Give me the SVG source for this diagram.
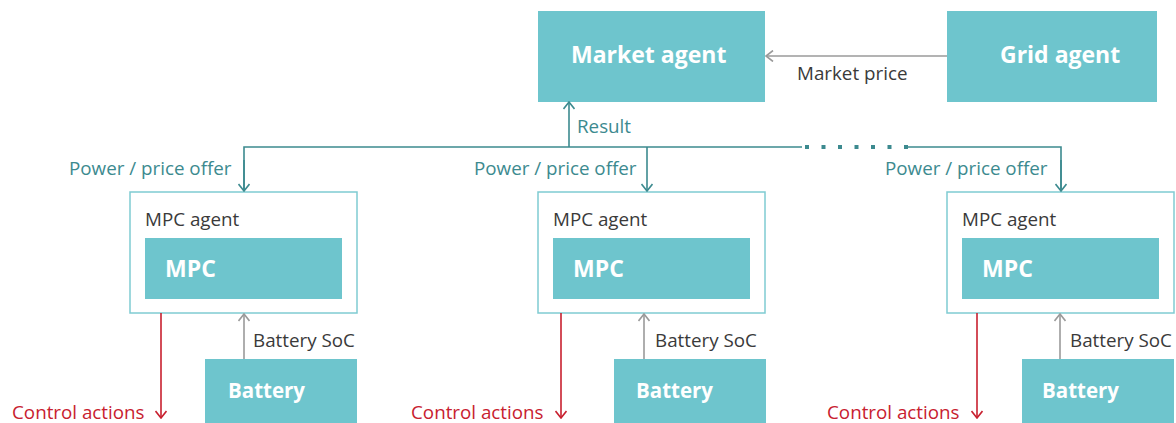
<svg xmlns="http://www.w3.org/2000/svg" width="1176" height="423" viewBox="0 0 1176 423">
<style>
.box{fill:#6ec5cd}
.agent{fill:#fff;stroke:#7fcbd2;stroke-width:1.5}
.big{font-family:"Open Sans","Noto Sans",sans-serif;font-weight:bold;fill:#fff;font-size:23px}
.bat{font-size:20.5px}
.lbl{font-family:"Open Sans","Noto Sans",sans-serif;font-size:18.8px;fill:#3a3a3a}
.teal{fill:#3c8a8f}
.red{fill:#c8202f}
.cT{stroke:#3c8a8f;stroke-width:1.6;fill:none}
.cG{stroke:#9a9a9a;stroke-width:1.6;fill:none}
.cR{stroke:#c8202f;stroke-width:1.6;fill:none}
</style>
<defs>
<marker id="aT" viewBox="0 0 12 12" refX="11" refY="6" markerWidth="12" markerHeight="12" markerUnits="userSpaceOnUse" orient="auto"><path d="M4,0.5 L11,6 L4,11.5" fill="none" stroke="#3c8a8f" stroke-width="1.6"/></marker>
<marker id="aG" viewBox="0 0 12 12" refX="11" refY="6" markerWidth="12" markerHeight="12" markerUnits="userSpaceOnUse" orient="auto"><path d="M4,0.5 L11,6 L4,11.5" fill="none" stroke="#9a9a9a" stroke-width="1.6"/></marker>
<marker id="aR" viewBox="0 0 12 12" refX="11" refY="6" markerWidth="12" markerHeight="12" markerUnits="userSpaceOnUse" orient="auto"><path d="M4,0.5 L11,6 L4,11.5" fill="none" stroke="#c8202f" stroke-width="1.6"/></marker>
</defs>

<g id="market-agent"><rect class="box" x="538" y="11" width="227" height="91"/><text class="big" x="571" y="63">Market agent</text></g>
<g id="grid-agent"><rect class="box" x="947" y="11" width="210" height="91"/><text class="big" x="1000" y="63">Grid agent</text></g>

<g id="mpc-agent-1"><rect class="agent" x="130" y="192" width="227" height="121"/><text class="lbl" x="145" y="226">MPC agent</text><rect class="box" x="145" y="238" width="197" height="61"/><text class="big" x="165" y="277">MPC</text></g>
<g id="mpc-agent-2"><rect class="agent" x="538" y="192" width="227" height="121"/><text class="lbl" x="553" y="226">MPC agent</text><rect class="box" x="553" y="238" width="197" height="61"/><text class="big" x="573" y="277">MPC</text></g>
<g id="mpc-agent-3"><rect class="agent" x="947" y="192" width="227" height="121"/><text class="lbl" x="962" y="226">MPC agent</text><rect class="box" x="962" y="238" width="197" height="61"/><text class="big" x="982" y="277">MPC</text></g>

<g id="battery-1"><rect class="box" x="205" y="359" width="152" height="70"/><text class="big bat" x="228" y="398">Battery</text></g>
<g id="battery-2"><rect class="box" x="614" y="359" width="152" height="70"/><text class="big bat" x="636" y="398">Battery</text></g>
<g id="battery-3"><rect class="box" x="1022" y="359" width="152" height="70"/><text class="big bat" x="1042" y="398">Battery</text></g>

<g id="connectors">
<line class="cG" x1="947" y1="56" x2="766" y2="56" marker-end="url(#aG)"/>
<text class="lbl" x="797" y="80">Market price</text>
<line class="cT" x1="569" y1="147" x2="569" y2="102" marker-end="url(#aT)"/>
<text class="lbl teal" x="577" y="133">Result</text>
<polyline class="cT" points="244,191 244,147 802,147"/>
<line x1="805" y1="147" x2="908" y2="147" stroke="#3c8a8f" stroke-width="4" stroke-dasharray="4 12.5"/>
<polyline class="cT" points="908,147 1061,147 1061,191"/>
<line class="cT" x1="244" y1="160" x2="244" y2="191" marker-end="url(#aT)"/>
<line class="cT" x1="647" y1="147" x2="647" y2="191" marker-end="url(#aT)"/>
<line class="cT" x1="1061" y1="160" x2="1061" y2="191" marker-end="url(#aT)"/>
<text class="lbl teal" x="69" y="175">Power / price offer</text>
<text class="lbl teal" x="474" y="175">Power / price offer</text>
<text class="lbl teal" x="885" y="175">Power / price offer</text>

<line class="cG" x1="244" y1="359" x2="244" y2="314" marker-end="url(#aG)"/>
<line class="cG" x1="644" y1="359" x2="644" y2="314" marker-end="url(#aG)"/>
<line class="cG" x1="1060" y1="359" x2="1060" y2="314" marker-end="url(#aG)"/>
<text class="lbl" x="253" y="347">Battery SoC</text>
<text class="lbl" x="655" y="347">Battery SoC</text>
<text class="lbl" x="1070" y="347">Battery SoC</text>

<line class="cR" x1="161" y1="313" x2="161" y2="418" marker-end="url(#aR)"/>
<line class="cR" x1="561" y1="313" x2="561" y2="418" marker-end="url(#aR)"/>
<line class="cR" x1="977" y1="313" x2="977" y2="418" marker-end="url(#aR)"/>
<text class="lbl red" x="12" y="419">Control actions</text>
<text class="lbl red" x="411" y="419">Control actions</text>
<text class="lbl red" x="827" y="419">Control actions</text>
</g>
</svg>
